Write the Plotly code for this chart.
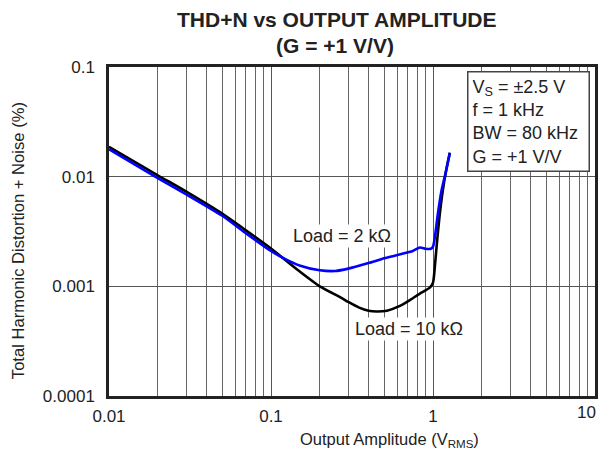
import plotly.graph_objects as go

# Load = 10 kOhm (black)
x_10k = [0.01, 0.02, 0.03, 0.05, 0.07, 0.1, 0.15, 0.2, 0.27, 0.3, 0.35, 0.4, 0.45, 0.52, 0.62, 0.72, 0.83, 0.9, 0.96, 1.0, 1.03, 1.06, 1.1, 1.15, 1.2, 1.27]
y_10k = [0.0187, 0.0103, 0.0073, 0.0046, 0.00324, 0.00221, 0.00137, 0.001, 0.00079, 0.00072, 0.00064, 0.0006, 0.00059, 0.0006, 0.00066, 0.00075, 0.00086, 0.00092, 0.00098, 0.00108, 0.0016, 0.0026, 0.0045, 0.0075, 0.011, 0.0165]

# Load = 2 kOhm (blue)
x_2k = [0.01, 0.02, 0.03, 0.05, 0.07, 0.1, 0.12, 0.15, 0.2, 0.25, 0.3, 0.4, 0.5, 0.62, 0.75, 0.83, 0.9, 0.97, 1.0, 1.03, 1.07, 1.13, 1.2, 1.27]
y_2k = [0.0178, 0.0097, 0.0069, 0.0044, 0.00305, 0.0021, 0.0018, 0.00155, 0.0014, 0.00138, 0.00145, 0.00163, 0.0018, 0.00195, 0.0021, 0.00226, 0.0022, 0.0022, 0.0023, 0.0029, 0.0045, 0.0075, 0.011, 0.0165]

x_tickvals = [0.01, 0.1, 1, 10]
x_ticktext = ["0.01", "0.1", "1", "10"]
y_tickvals = [0.0001, 0.001, 0.01, 0.1]
y_ticktext = ["0.0001", "0.001", "0.01", "0.1"]
x_minor = [m * d for d in [0.01, 0.1, 1] for m in range(2, 10)]

title_lines = ["THD+N vs OUTPUT AMPLITUDE", "(G = +1 V/V)"]
conditions = ["V<sub>S</sub> = ±2.5 V", "f = 1 kHz", "BW = 80 kHz", "G = +1 V/V"]
x_title = "Output Amplitude (V<sub>RMS</sub>)"
y_title = "Total Harmonic Distortion + Noise (%)"

FONT = "Liberation Sans, Arial, sans-serif"
TXT = "#222"

fig = go.Figure()
fig.add_trace(go.Scatter(x=x_10k, y=y_10k, mode="lines", line=dict(color="black", width=2.6, shape="spline", smoothing=0.6), showlegend=False))
fig.add_trace(go.Scatter(x=x_2k, y=y_2k, mode="lines", line=dict(color="#0000ff", width=2.6, shape="spline", smoothing=0.6), showlegend=False))

# page body has an 8px margin, so the figure is 8px smaller and offsets reduced by 8
fig.update_layout(
    width=599, height=457,
    margin=dict(l=101, r=12, t=59, b=69, autoexpand=False),
    paper_bgcolor="white", plot_bgcolor="white",
    font=dict(family=FONT, size=17, color=TXT),
    showlegend=False,
)
# last x tick label ("10") is drawn as a right-aligned annotation so it stays inside the page
fig.update_xaxes(
    type="log", range=[-2, 1], tickvals=x_tickvals[:-1], ticktext=x_ticktext[:-1],
    showgrid=True, gridcolor="#555", gridwidth=1,
    minor=dict(tickvals=x_minor, showgrid=True, gridcolor="#666", gridwidth=1, ticks=""),
    showline=True, linecolor="#222", linewidth=2.5, mirror=True, ticks="",
    tickfont=dict(size=17, color=TXT), automargin=False, zeroline=False,
    ticklabelstandoff=3,
)
fig.update_yaxes(
    type="log", range=[-4, -1], tickvals=y_tickvals, ticktext=y_ticktext,
    showgrid=True, gridcolor="#555", gridwidth=1,
    showline=True, linecolor="#222", linewidth=2.5, mirror=True, ticks="",
    tickfont=dict(size=17, color=TXT), automargin=False, zeroline=False,
    ticklabelstandoff=8,
)
fig.add_annotation(x=1, y=0, xref="x", yref="paper", xanchor="right", yanchor="top", xshift=3, yshift=-5,
                   text=x_ticktext[-1], showarrow=False, font=dict(size=17, color=TXT))

# titles
fig.add_annotation(x=0.469, y=1.143, xref="paper", yref="paper", xanchor="center", yanchor="middle",
                   text="<b>" + title_lines[0] + "</b>", showarrow=False, font=dict(size=21, color=TXT))
fig.add_annotation(x=0.465, y=1.064, xref="paper", yref="paper", xanchor="center", yanchor="middle",
                   text="<b>" + title_lines[1] + "</b>", showarrow=False, font=dict(size=21, color=TXT))
fig.add_annotation(x=0.578, y=-0.135, xref="paper", yref="paper", xanchor="center", yanchor="middle",
                   text=x_title, showarrow=False, font=dict(size=16.5, color=TXT))
fig.add_annotation(x=-0.187, y=0.471, xref="paper", yref="paper", xanchor="center", yanchor="middle",
                   text=y_title, textangle=-90, showarrow=False, font=dict(size=16.6, color=TXT))

fig.add_annotation(x=0.737, y=0.988, xref="paper", yref="paper", xanchor="left", yanchor="top",
                   text="<br>".join(conditions), align="left", showarrow=False, width=112,
                   bgcolor="white", bordercolor="#444", borderwidth=1.5, borderpad=4,
                   font=dict(size=18, color=TXT))
fig.add_annotation(x=-0.559, y=-2.545, xref="x", yref="y", text="Load = 2 kΩ", showarrow=False,
                   bgcolor="white", font=dict(size=18, color=TXT))
fig.add_annotation(x=-0.148, y=-3.39, xref="x", yref="y", text="Load = 10 kΩ", showarrow=False,
                   bgcolor="white", font=dict(size=18, color=TXT))

fig.write_html("out.html")
